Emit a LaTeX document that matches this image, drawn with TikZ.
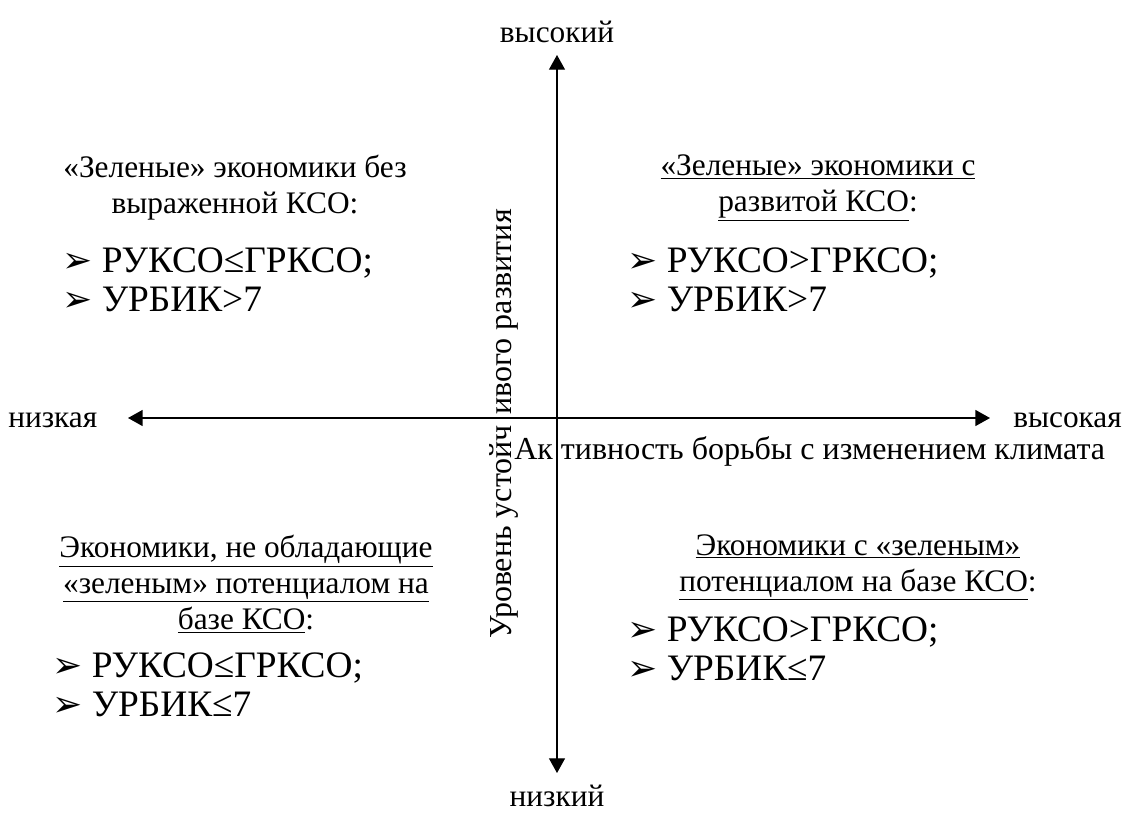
\documentclass[tikz,border=0pt]{standalone}
\usepackage{fontspec}
\setmainfont{Liberation Serif}
\newfontfamily\dejavu{DejaVu Sans}
\usetikzlibrary{arrows.meta}

% маркер списка
\newcommand{\pkt}{{\dejavu\fontsize{27}{27}\selectfont ➢}\hspace{7pt}}

\begin{document}
\begin{tikzpicture}[x=0.75pt,y=-0.75pt,
  achse/.style={{Triangle[length=11pt,width=12pt]}-{Triangle[length=11pt,width=12pt]}},
  lbl/.style={font=\fontsize{23.5}{27}\selectfont, inner sep=0pt},
  head/.style={lbl, align=center},
  punkte/.style={font=\fontsize{28}{29}\selectfont, inner sep=0pt, align=left, anchor=base west}]
  \useasboundingbox (0,0) rectangle (1127,814);

  % Оси
  \coordinate (links) at (128,418);
  \coordinate (rechts) at (990,418);
  \coordinate (oben) at (557,55);
  \coordinate (unten) at (557,773);
  \draw[line width=1.1pt, achse] (links) -- (rechts);
  \draw[line width=0.8pt, achse] (oben) -- (unten);

  % Подписи осей
  \node[lbl, anchor=west] (niedrigx) at (8,420) {низкая};
  \node[lbl, anchor=east] (hochx) at (1122,420) {высокая};
  \node[lbl] (hochy) at (557,32) {высокий};
  \node[lbl] (niedrigy) at (557,796) {низкий};
  \node[lbl, anchor=west, font=\fontsize{24}{27}\selectfont] (achsex) at (514,451) {Ак тивность борьбы с изменением климата};
  \node[lbl, rotate=90, font=\fontsize{24}{27}\selectfont] (achsey) at (504,424) {Уровень устойч\hspace{2pt} ивого развития};

  % Левый верхний квадрант
  \node[head] (kopflo) at (235,188) {«Зеленые» экономики без\\ выраженной КСО:};
  \node[punkte] (listelo) at (62,311) {\pkt РУКСО≤ГРКСО;\\ \pkt УРБИК>7};

  % Правый верхний квадрант
  \node[head] (kopfro) at (818,188) {\underline{«Зеленые» экономики с}\\ \underline{развитой КСО}:};
  \node[punkte] (listero) at (627,311) {\pkt РУКСО>ГРКСО;\\ \pkt УРБИК>7};

  % Левый нижний квадрант
  \node[head] (kopflu) at (246,584) {\underline{Экономики, не обладающие}\\ \underline{«зеленым» потенциалом на}\\ \underline{базе КСО}:};
  \node[punkte] (listelu) at (52,716) {\pkt РУКСО≤ГРКСО;\\ \pkt УРБИК≤7};

  % Правый нижний квадрант
  \node[head] (kopfru) at (858,567) {\underline{Экономики с «зеленым»}\\ \underline{потенциалом на базе КСО}:};
  \node[punkte] (listeru) at (627,680) {\pkt РУКСО>ГРКСО;\\ \pkt УРБИК≤7};
\end{tikzpicture}
\end{document}
